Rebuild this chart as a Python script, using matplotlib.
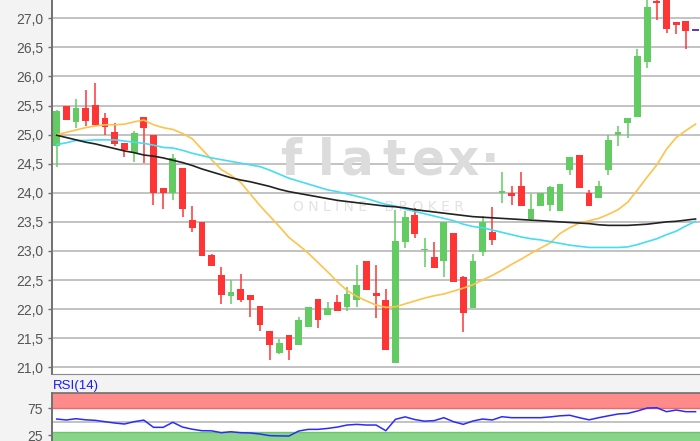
import numpy as np
import matplotlib.pyplot as plt
from matplotlib.ticker import FuncFormatter

# daily candles (index 66 is the doji / last-price dash)
opens = [24.80, 25.50, 25.21, 25.45, 25.51, 25.28, 25.04, 24.86, 24.68, 25.30,
         25.00, 24.08, 24.00, 24.42, 23.53, 23.49, 22.93, 22.59, 22.23, 22.35,
         22.25, 22.06, 21.62, 21.24, 21.55, 21.39, 21.70, 22.17, 21.90, 22.13,
         22.04, 22.16, 22.82, 22.27, 22.15, 21.08, 23.16, 23.62, 23.01, 22.90,
         22.83, 23.31, 22.55, 22.02, 22.99, 23.33, 24.00, 23.99, 24.11, 23.55,
         23.78, 23.79, 23.69, 24.39, 24.65, 23.99, 23.91, 24.39, 25.00, 25.20,
         25.31, 26.25, 27.30, 27.45, 26.94, 26.96, 26.78]
highs = [25.42, 25.50, 25.61, 25.77, 25.89, 25.37, 25.20, 24.86, 25.07, 25.30,
         25.00, 24.08, 24.67, 24.42, 23.78, 23.49, 22.95, 22.72, 22.50, 22.60,
         22.25, 22.06, 21.62, 21.48, 21.55, 21.87, 22.03, 22.17, 22.13, 22.25,
         22.38, 22.76, 22.82, 22.76, 22.34, 23.70, 23.68, 23.74, 23.22, 23.16,
         23.50, 23.31, 22.57, 22.95, 23.60, 23.75, 24.36, 24.11, 24.36, 23.98,
         24.00, 24.12, 24.15, 24.61, 24.65, 24.04, 24.20, 25.00, 25.14, 25.29,
         26.48, 27.40, 27.40, 27.45, 26.94, 26.96, 26.78]
lows = [24.45, 25.26, 25.11, 25.14, 25.17, 25.00, 24.80, 24.62, 24.53, 24.51,
        23.79, 23.72, 23.88, 23.58, 23.32, 22.92, 22.74, 22.09, 22.09, 22.12,
        21.86, 21.62, 21.12, 21.22, 21.13, 21.39, 21.70, 21.67, 21.90, 21.96,
        21.96, 22.04, 22.33, 21.84, 21.29, 21.08, 23.05, 23.22, 22.73, 22.71,
        22.56, 22.47, 21.60, 22.02, 22.92, 23.10, 23.83, 23.79, 23.77, 23.55,
        23.78, 23.68, 23.69, 24.31, 24.08, 23.77, 23.91, 24.31, 24.80, 24.94,
        25.31, 26.14, 26.97, 26.74, 26.73, 26.48, 26.78]
closes = [25.40, 25.26, 25.45, 25.24, 25.17, 25.13, 24.84, 24.74, 25.02, 25.12,
          23.99, 23.99, 24.60, 23.72, 23.39, 22.92, 22.74, 22.25, 22.30, 22.15,
          22.15, 21.72, 21.38, 21.41, 21.29, 21.82, 22.03, 21.82, 22.02, 21.96,
          22.26, 22.42, 22.33, 22.22, 21.29, 23.17, 23.59, 23.29, 23.03, 22.71,
          23.50, 22.47, 21.94, 22.82, 23.49, 23.18, 24.02, 23.95, 23.77, 23.73,
          24.00, 24.10, 24.15, 24.61, 24.08, 23.77, 24.11, 24.91, 25.05, 25.29,
          26.36, 27.19, 27.27, 26.81, 26.88, 26.79, 26.78]

ma_orange = [25.00, 25.04, 25.08, 25.12, 25.15, 25.17, 25.17, 25.18, 25.22, 25.25,
             25.17, 25.12, 25.09, 25.02, 24.93, 24.75, 24.57, 24.40, 24.30, 24.18,
             23.98, 23.78, 23.60, 23.42, 23.23, 23.10, 22.96, 22.80, 22.64, 22.47,
             22.32, 22.22, 22.14, 22.07, 22.03, 22.04, 22.09, 22.14, 22.19, 22.23,
             22.26, 22.31, 22.36, 22.42, 22.50, 22.58, 22.67, 22.77, 22.86, 22.96,
             23.05, 23.14, 23.30, 23.40, 23.48, 23.52, 23.56, 23.63, 23.71, 23.84,
             24.05, 24.27, 24.48, 24.75, 24.95, 25.07, 25.18]
ma_cyan = [24.83, 24.86, 24.90, 24.90, 24.91, 24.91, 24.91, 24.89, 24.87, 24.85,
           24.82, 24.78, 24.77, 24.73, 24.68, 24.64, 24.60, 24.57, 24.54, 24.51,
           24.48, 24.45, 24.39, 24.32, 24.25, 24.20, 24.15, 24.10, 24.05, 24.02,
           23.98, 23.94, 23.90, 23.85, 23.80, 23.77, 23.72, 23.68, 23.64, 23.60,
           23.56, 23.52, 23.46, 23.42, 23.40, 23.36, 23.32, 23.28, 23.24, 23.21,
           23.19, 23.16, 23.13, 23.10, 23.08, 23.06, 23.06, 23.06, 23.06, 23.07,
           23.11, 23.16, 23.21, 23.28, 23.34, 23.43, 23.51]
ma_black = [24.99, 24.95, 24.91, 24.87, 24.84, 24.80, 24.76, 24.72, 24.69, 24.65,
            24.63, 24.60, 24.56, 24.52, 24.47, 24.41, 24.36, 24.31, 24.26, 24.22,
            24.19, 24.15, 24.11, 24.06, 24.02, 23.99, 23.96, 23.93, 23.90, 23.87,
            23.85, 23.83, 23.81, 23.79, 23.77, 23.76, 23.74, 23.71, 23.69, 23.67,
            23.65, 23.63, 23.61, 23.59, 23.58, 23.57, 23.56, 23.55, 23.54, 23.53,
            23.52, 23.51, 23.50, 23.49, 23.48, 23.47, 23.45, 23.44, 23.44, 23.44,
            23.45, 23.46, 23.48, 23.50, 23.51, 23.53, 23.55]

rsi = [55.0, 53.2, 55.6, 53.5, 52.5, 50.0, 47.5, 45.7, 50.0, 53.0,
       39.5, 39.5, 48.9, 40.0, 36.0, 33.2, 33.0, 29.5, 31.3, 29.5,
       29.0, 27.0, 24.0, 23.5, 23.3, 32.6, 35.7, 35.7, 37.5, 40.0,
       43.8, 45.0, 43.8, 43.8, 33.2, 54.5, 59.0, 54.0, 51.0, 52.0,
       57.5, 50.0, 45.1, 51.3, 55.0, 53.2, 59.3, 57.5, 57.5, 57.5,
       57.5, 59.0, 61.0, 62.0, 57.5, 53.5, 57.5, 61.0, 64.4, 65.5,
       70.0, 75.5, 76.0, 68.7, 71.8, 68.7, 68.7]

price_ticks = [21.0, 21.5, 22.0, 22.5, 23.0, 23.5, 24.0, 24.5, 25.0, 25.5, 26.0, 26.5, 27.0]
rsi_ticks = [25, 75]

GREEN = '#62cc62'
RED = '#ff3535'
DOJI = '#5a3ccc'

idx = np.arange(len(opens))
o = np.array(opens); c = np.array(closes)
colors = [GREEN if cc > oo else (RED if cc < oo else DOJI) for oo, cc in zip(o, c)]

fig = plt.figure(figsize=(7, 4.41), dpi=100)
fig.patch.set_facecolor('#f3f3f3')
ax = fig.add_axes([0.0747, 0.152, 0.9253, 0.848])
rs = fig.add_axes([0.0747, 0.0, 0.9253, 0.1095])

comma = FuncFormatter(lambda v, p: f"{v:.1f}".replace('.', ','))

# main price panel
ax.set_facecolor('white')
ax.set_xlim(-0.455, 66.46)
ax.set_ylim(20.885, 27.315)
ax.set_yticks(price_ticks)
ax.yaxis.set_major_formatter(comma)
ax.set_xticks([])
ax.grid(axis='y', color='#b2b2b2', lw=1.1, zorder=0)
ax.set_axisbelow(True)

# watermark, letter by letter (pixel centres from the reference)
for ch, px in zip('flatex\u00b7', [291, 326, 357, 394, 428, 463, 490]):
    ax.text((px - 52.3) / 647.7, 0.532, ch, transform=ax.transAxes, ha='center',
            va='baseline', fontsize=35, fontweight='bold', color='#dcdcdc',
            family='DejaVu Sans', zorder=1)
ax.text(0.503, 0.437, 'O N L I N E    B R O K E R', transform=ax.transAxes, ha='center',
        va='baseline', fontsize=10, color='#e2e2e2', family='DejaVu Sans', zorder=1)

ax.vlines(idx, lows, highs, colors=colors, lw=1.1, zorder=2)
body_bottom = np.minimum(o, c)
body_h = np.maximum(np.abs(c - o), 0.03)
ax.bar(idx, body_h, bottom=body_bottom, width=0.7, color=colors, lw=0, zorder=3)

ax.plot(idx, ma_orange, color='#ffc24a', lw=1.2, zorder=4)
ax.plot(idx, ma_cyan, color='#45dcf5', lw=1.2, zorder=4)
ax.plot(idx, ma_black, color='#222222', lw=1.2, zorder=4)

for side in ['top', 'right']:
    ax.spines[side].set_visible(False)
ax.spines['left'].set_color('#707070')
ax.spines['left'].set_linewidth(1.4)
ax.spines['bottom'].set_color('#8a8a8a')
ax.tick_params(axis='y', length=2.6, width=1, color='#707070', labelcolor='#555555',
               labelsize=10, pad=4)
for t in ax.get_yticklabels():
    t.set_family('Liberation Sans')

# RSI panel
rs.set_facecolor('white')
rs.set_xlim(-0.455, 66.46)
rs.set_ylim(14, 104.1)
rs.axhspan(75, 104.1, color='#ff8a8a', lw=0, zorder=0)
rs.axhline(75, color='#e86a6a', lw=1, zorder=1)
rs.axhspan(14, 30, color='#88d488', lw=0, zorder=0)
rs.axhline(30, color='#6cc46c', lw=1, zorder=1)
rs.axhline(50, color='#b2b2b2', lw=1.1, zorder=1)
rs.plot(idx, rsi, color='#2b2bff', lw=1.1, zorder=3)
rs.set_yticks(rsi_ticks)
rs.set_xticks([])
rs.spines['right'].set_visible(False)
rs.spines['bottom'].set_visible(False)
rs.spines['left'].set_color('#707070')
rs.spines['left'].set_linewidth(1.4)
rs.spines['top'].set_color('#707070')
rs.spines['top'].set_linewidth(1.2)
rs.tick_params(axis='y', length=2.6, width=1, color='#707070', labelcolor='#555555',
               labelsize=10, pad=4)
for t in rs.get_yticklabels():
    t.set_family('Liberation Sans')

fig.text(53 / 700, 1 - 386 / 441, 'RSI(14)', color='#1a1aff', fontsize=9.5,
         family='Liberation Sans', va='center', ha='left')

fig.savefig('out.png', dpi=100, facecolor=fig.get_facecolor())
